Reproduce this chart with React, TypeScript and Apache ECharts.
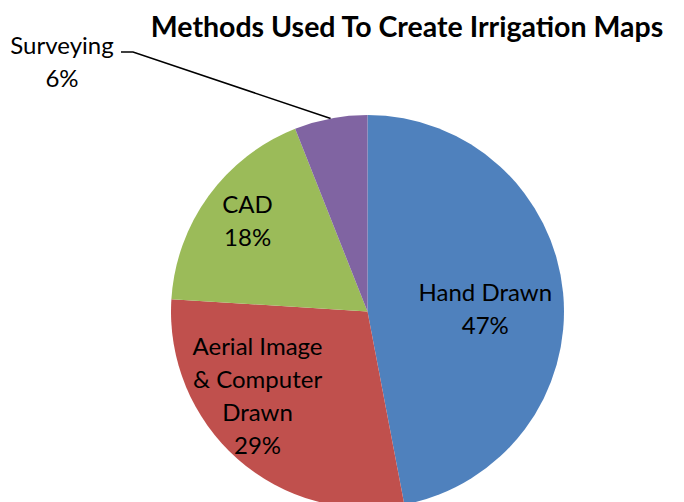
import React, { useEffect, useRef } from "react";
import * as echarts from "echarts";

const categories = ["Hand Drawn", "Aerial Image\n& Computer\nDrawn", "CAD", "Surveying"];
const values = [47, 29, 18, 6];
const colors = ["#4F81BD", "#C0504D", "#9BBB59", "#8064A2"];
const labelOffsets: [number, number][] = [[17, 6], [-43, 8], [-38, -32], [0, 0]];

export default function App() {
  const ref = useRef<HTMLDivElement>(null);
  useEffect(() => {
    if (!ref.current) return;
    const chart = echarts.init(ref.current, null, { renderer: "svg" });
    const font = "Lato, 'Open Sans', sans-serif";
    chart.setOption({
      animation: false,
      backgroundColor: "#ffffff",
      title: {
        text: "Methods Used To Create Irrigation Maps",
        left: 402,
        top: 6,
        textAlign: "center",
        textStyle: { fontFamily: font, fontWeight: "bold", fontSize: 28.5, color: "#000" },
      },
      series: [
        {
          type: "pie",
          center: [367.5, 311.5],
          radius: 196.5,
          startAngle: 90,
          clockwise: true,
          avoidLabelOverlap: false,
          itemStyle: { borderWidth: 0 },
          labelLine: { show: false },
          label: {
            show: true,
            position: "inside",
            color: "#000",
            fontFamily: font,
            fontSize: 24,
            lineHeight: 33,
            align: "center",
            formatter: (p: any) => `${p.name}\n${p.value}%`,
          },
          labelLayout: (params: any) => {
            if (params.dataIndex === 3) {
              const p0 = params.labelLinePoints ? params.labelLinePoints[0] : [331, 118];
              return {
                x: 62,
                y: 61,
                align: "center",
                verticalAlign: "middle",
                labelLinePoints: [p0, [133, 52], [121, 52]],
              };
            }
            return {};
          },
          data: categories.map((name, i) => {
            const item: any = {
              name,
              value: values[i],
              itemStyle: { color: colors[i] },
              label: { offset: labelOffsets[i] },
            };
            if (i === 3) {
              item.label = { position: "outside", offset: [0, 0] };
              item.labelLine = { show: true, length: 20, length2: 20, lineStyle: { color: "#000", width: 1.5 } };
            }
            return item;
          }),
        },
      ],
    });
    return () => chart.dispose();
  }, []);
  return <div ref={ref} style={{ width: 684, height: 502, position: "absolute", left: 0, top: 0 }} />;
}
